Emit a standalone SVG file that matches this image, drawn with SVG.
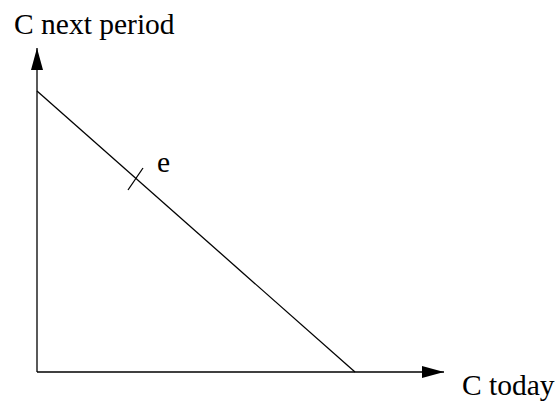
<svg xmlns="http://www.w3.org/2000/svg" width="556" height="401" viewBox="0 0 556 401">
<style>
.ln{stroke:#000;stroke-width:1.3;fill:none}
.t{font-family:"Liberation Serif","Times New Roman",serif;font-size:29.5px;fill:#000}
</style>
<defs>
<marker id="ar" markerWidth="22" markerHeight="12" refX="22" refY="6" orient="auto" markerUnits="userSpaceOnUse">
<path d="M0,0 L22,6 L0,12 Z" fill="#000"/>
</marker>
</defs>
<rect width="556" height="401" fill="#fff"/>
<g id="connectors">
<line class="ln" x1="37" y1="372" x2="37" y2="48" marker-end="url(#ar)"/>
<line class="ln" x1="37" y1="372" x2="444" y2="372" marker-end="url(#ar)"/>
<line class="ln" x1="37" y1="91" x2="355" y2="372"/>
<line class="ln" x1="128" y1="190" x2="143" y2="168"/>
</g>
<g id="label-y"><text class="t" x="14" y="34">C next period</text></g>
<g id="label-x"><text class="t" x="462" y="395">C today</text></g>
<g id="label-e"><text class="t" x="157" y="172">e</text></g>
</svg>
